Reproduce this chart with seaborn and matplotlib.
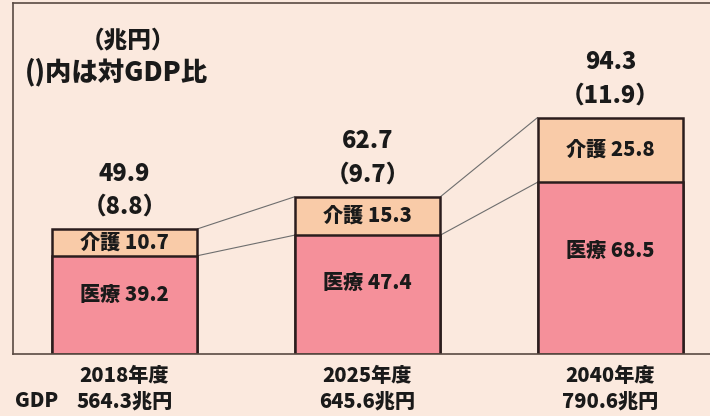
import numpy as np
import pandas as pd
import matplotlib.pyplot as plt
import seaborn as sns

# 医療・介護給付費の見通し（兆円）
years = ["2018年度", "2025年度", "2040年度"]
gdp_labels = ["564.3兆円", "645.6兆円", "790.6兆円"]
iryo = [39.2, 47.4, 68.5]     # 医療
kaigo = [10.7, 15.3, 25.8]    # 介護
totals = [49.9, 62.7, 94.3]   # 合計
gdp_ratio = [8.8, 9.7, 11.9]  # 対GDP比（%）

bg = "#fbe9de"
c_kaigo = "#f9cba8"
c_iryo = "#f5909a"
c_edge = "#2b1d1d"
ink = "#1a1a1a"
wt = "heavy"

sns.set_theme(style="white")
plt.rcParams["font.family"] = ["Noto Sans CJK JP", "DejaVu Sans"]
plt.rcParams["font.weight"] = wt

fig = plt.figure(figsize=(7.1, 4.16), dpi=100, facecolor=bg)
ax = fig.add_axes([13 / 710, 62 / 416, 1 - 13 / 710, 351 / 416])
ax.set_facecolor(bg)

df = pd.DataFrame({"year": years, "iryo": iryo, "kaigo": kaigo, "total": totals})

# 積み上げ棒（合計を先に描き、その上に医療を重ねる）
sns.barplot(data=df, x="year", y="total", color=c_kaigo, saturation=1,
            width=0.6, edgecolor=c_edge, linewidth=1.8, ax=ax)
sns.barplot(data=df, x="year", y="iryo", color=c_iryo, saturation=1,
            width=0.6, edgecolor=c_edge, linewidth=1.8, ax=ax)

# 棒の間をつなぐ細線
half = 0.3
for i in range(len(years) - 1):
    ax.plot([i + half, i + 1 - half], [totals[i], totals[i + 1]],
            color="#6e6e6e", lw=0.8, zorder=0)
    ax.plot([i + half, i + 1 - half], [iryo[i], iryo[i + 1]],
            color="#6e6e6e", lw=0.8, zorder=0)

for i in range(len(years)):
    ax.text(i, iryo[i] + kaigo[i] / 2, f"介護 {kaigo[i]}", ha="center",
            va="center", fontsize=14.5, fontweight=wt, color=ink)
    ax.text(i, iryo[i] * 0.6, f"医療 {iryo[i]}", ha="center",
            va="center", fontsize=14.5, fontweight=wt, color=ink)
    ax.annotate(f"（{gdp_ratio[i]}）", (i, totals[i]), xytext=(0, 16),
                textcoords="offset points", ha="center", va="center",
                fontsize=17, fontweight=wt, color=ink)
    ax.annotate(f"{totals[i]}", (i, totals[i]), xytext=(0, 40),
                textcoords="offset points", ha="center", va="center",
                fontsize=17, fontweight=wt, color=ink)

ax.set_ylim(0, 140)
ax.set_xlim(-0.459, 2.41)
ax.set_xlabel("")
ax.set_ylabel("")
ax.set_yticks([])
ax.set_xticks(range(len(years)))
ax.set_xticklabels([f"{y}\n{g}" for y, g in zip(years, gdp_labels)],
                   fontsize=14.5, fontweight=wt, linespacing=1.3)
ax.tick_params(axis="x", length=0, pad=9, colors=ink)

for side in ["left", "top", "bottom"]:
    ax.spines[side].set_color("#5a4a42")
    ax.spines[side].set_linewidth(1.2)
ax.spines["right"].set_visible(False)

fig.text(128 / 710, 1 - 40 / 416, "（兆円）", ha="center", va="center",
         fontsize=17, fontweight=wt, color=ink)
fig.text(25 / 710, 1 - 72 / 416, "()内は対GDP比", ha="left", va="center",
         fontsize=19, fontweight=wt, color=ink)
fig.text(37 / 710, 1 - 401 / 416, "GDP", ha="center", va="center",
         fontsize=14.5, fontweight=wt, color=ink)

fig.savefig("out.png", dpi=100, facecolor=bg)
